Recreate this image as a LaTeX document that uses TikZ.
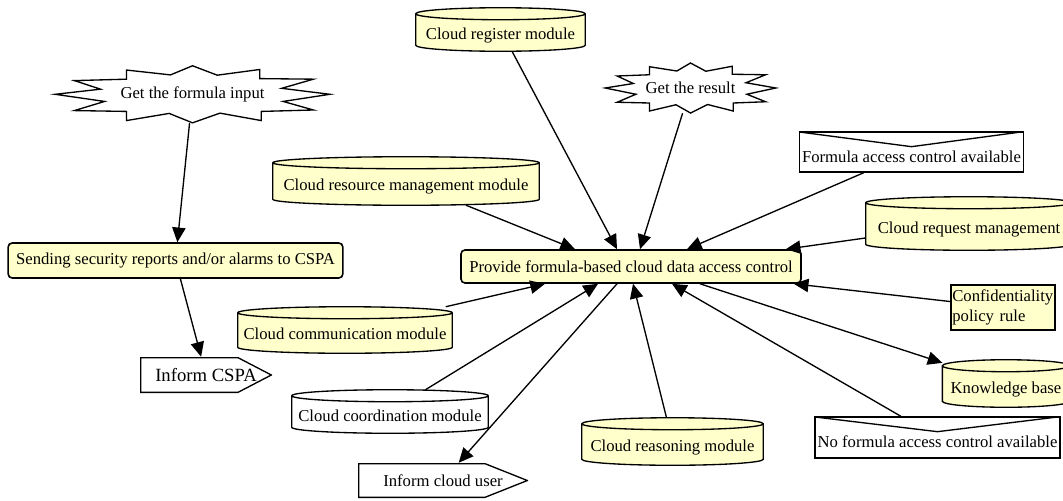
\documentclass[tikz,border=0pt]{standalone}
\usepackage{fontspec}
\setmainfont{Liberation Serif}
\usepackage{xcolor}
\usepackage{tikz}
\usetikzlibrary{arrows.meta, calc, backgrounds}
\definecolor{cream}{HTML}{FFFFCC}
\newcommand{\diagfont}{\fontsize{12.5}{15}\selectfont}
\newcommand{\burstoutline}{(0,1) -- (0.18,0.67) -- (0.49,0.87) -- (0.49,0.55) -- (0.88,0.53) -- (0.65,0.21) -- (1,0) -- (0.66,-0.25) -- (0.88,-0.55) -- (0.5,-0.6) -- (0.5,-0.92) -- (0.2,-0.66) -- (0,-1) -- (-0.17,-0.67) -- (-0.48,-0.92) -- (-0.48,-0.6) -- (-0.86,-0.57) -- (-0.64,-0.25) -- (-1,0) -- (-0.67,0.18) -- (-0.86,0.48) -- (-0.48,0.53) -- (-0.48,0.85) -- (-0.16,0.68) -- cycle}
\tikzset{
  box/.style={rectangle, draw, fill=cream, rounded corners=3pt, line width=1.2pt, font=\diagfont, inner sep=2pt},
  drum/.style={rectangle, align=center, font=\diagfont, text height=17pt, text depth=2.5pt, inner sep=0pt},
  burst/.style={rectangle, font=\diagfont, inner sep=0pt},
  notice/.style={rectangle, draw, fill=white, line width=1pt, font=\diagfont, text height=17.5pt, text depth=2.5pt, inner sep=2pt,
    path picture={\draw[line width=1pt] (path picture bounding box.north west) -- ([yshift=-11pt]path picture bounding box.north) -- ([xshift=-2pt]path picture bounding box.north east);}},
  flag/.style={rectangle, font=\diagfont, inner sep=0pt,
    path picture={\draw[line width=1pt, fill=white]
      ([shift={(.5pt,-.5pt)}]path picture bounding box.north west)
      -- ([shift={(-#1,-.5pt)}]path picture bounding box.north east)
      -- ([xshift=-.5pt]path picture bounding box.east)
      -- ([shift={(-#1,.5pt)}]path picture bounding box.south east)
      -- ([shift={(.5pt,.5pt)}]path picture bounding box.south west) -- cycle;}},
  rule/.style={rectangle, draw, fill=cream, line width=1.4pt, font=\diagfont, align=left, text width=76pt, inner sep=1pt},
  arrow/.style={-{Triangle[length=11pt, width=10pt]}, line width=1pt},
}

\begin{document}
\begin{tikzpicture}[x=0.75pt, y=-0.75pt]
  \useasboundingbox (0,0) rectangle (1063,500);
  % left branch
  \node[burst, minimum width=206pt, minimum height=42.8pt] (finput) at (192.5,94.3) {Get the formula input};
  \node[box, minimum width=251pt, minimum height=26.25pt] (send) at (175.5,260.5) {Sending security reports and/or alarms to CSPA};
  \node[flag=25.5pt, minimum width=99pt, minimum height=27pt, font=\fontsize{14}{16}\selectfont] (cspa) at (206,375) {Inform CSPA};
  % centre
  \node[box, minimum width=255pt, minimum height=24.75pt] (main) at (631,266.5) {Provide formula-based cloud data access control};
  \node[drum, minimum width=126.75pt, minimum height=32.25pt] (reg) at (500.5,29.5) {Cloud register module};
  \node[burst, minimum width=128pt, minimum height=37.5pt] (result) at (690.5,88) {Get the result};
  \node[drum, minimum width=199.5pt, minimum height=36pt] (res) at (406,181) {Cloud resource management module};
  \node[notice, minimum width=167.25pt, minimum height=30pt] (fac) at (911.5,152) {Formula access control available};
  \node[drum, minimum width=154.5pt, minimum height=39.75pt] (req) at (969,223.5) {Cloud request management};
  \node[rule, minimum height=33.75pt] (conf) at (1003,307.5) {Confidentiality\\policy rule};
  \node[drum, minimum width=95pt, minimum height=35.25pt] (kb) at (1006,383.5) {Knowledge base};
  \node[notice, minimum width=180.75pt, minimum height=30.75pt] (nfac) at (937.5,437.5) {No formula access control available};
  \node[drum, minimum width=160.5pt, minimum height=34.5pt] (comm) at (345,330) {Cloud communication module};
  \node[drum, minimum width=147pt, minimum height=32.25pt] (coord) at (390,411.5) {Cloud coordination module};
  \node[drum, minimum width=135.75pt, minimum height=35.25pt] (reas) at (672.5,441.5) {Cloud reasoning module};
  \node[flag=32.25pt, minimum width=127.5pt, minimum height=26.25pt] (user) at (443,480.5) {Inform cloud user};

  % cylinders and bursts behind the texts
  \begin{scope}[on background layer]
    \foreach \d/\c in {reg/cream, res/cream, req/cream, comm/cream, coord/white, reas/cream, kb/cream}
      \draw[line width=1pt, fill=\c] let \p1=(\d.north west), \p2=(\d.south east) in
        (\x1,\y1-4.5pt) -- (\x1,\y2+4.5pt)
        arc[start angle=180, end angle=360, x radius={(\x2-\x1)/2}, y radius=4.5pt]
        -- (\x2,\y1-4.5pt)
        arc[start angle=0, end angle=180, x radius={(\x2-\x1)/2}, y radius=4.5pt] -- cycle
        (\x1,\y1-4.5pt) arc[start angle=180, end angle=360, x radius={(\x2-\x1)/2}, y radius=4.5pt];
    \begin{scope}[shift={(finput.center)}, x=103pt, y=21.4pt]
      \draw[line width=1pt, fill=white] \burstoutline;
    \end{scope}
    \begin{scope}[shift={(result.center)}, x=64pt, y=18.75pt]
      \draw[line width=1pt, fill=white] \burstoutline;
    \end{scope}
  \end{scope}

  \draw[arrow] (finput) -- (send);
  \draw[arrow] (send) -- (cspa);
  \draw[arrow] (res) -- ([xshift=-42pt]main.north);
  \draw[arrow] (reg) -- ([xshift=-10.5pt]main.north);
  \draw[arrow] (result) -- ([xshift=6.75pt]main.north);
  \draw[arrow] (fac) -- ([xshift=42pt]main.north);
  \draw[arrow] (req) -- ([xshift=-12pt]main.north east);
  \draw[arrow] (conf) -- ([xshift=-6pt]main.south east);
  \draw[arrow] (comm) -- ([xshift=-64.5pt]main.south);
  \draw[arrow] (coord) -- ([xshift=-24.75pt]main.south);
  \draw[arrow] ([xshift=-10.5pt]main.south) -- (user);
  \draw[arrow] (reas) -- ([xshift=1.5pt]main.south);
  \draw[arrow] (nfac) -- ([xshift=30.75pt]main.south);
  \draw[arrow] ([xshift=51.75pt]main.south) -- (kb);
\end{tikzpicture}
\end{document}
